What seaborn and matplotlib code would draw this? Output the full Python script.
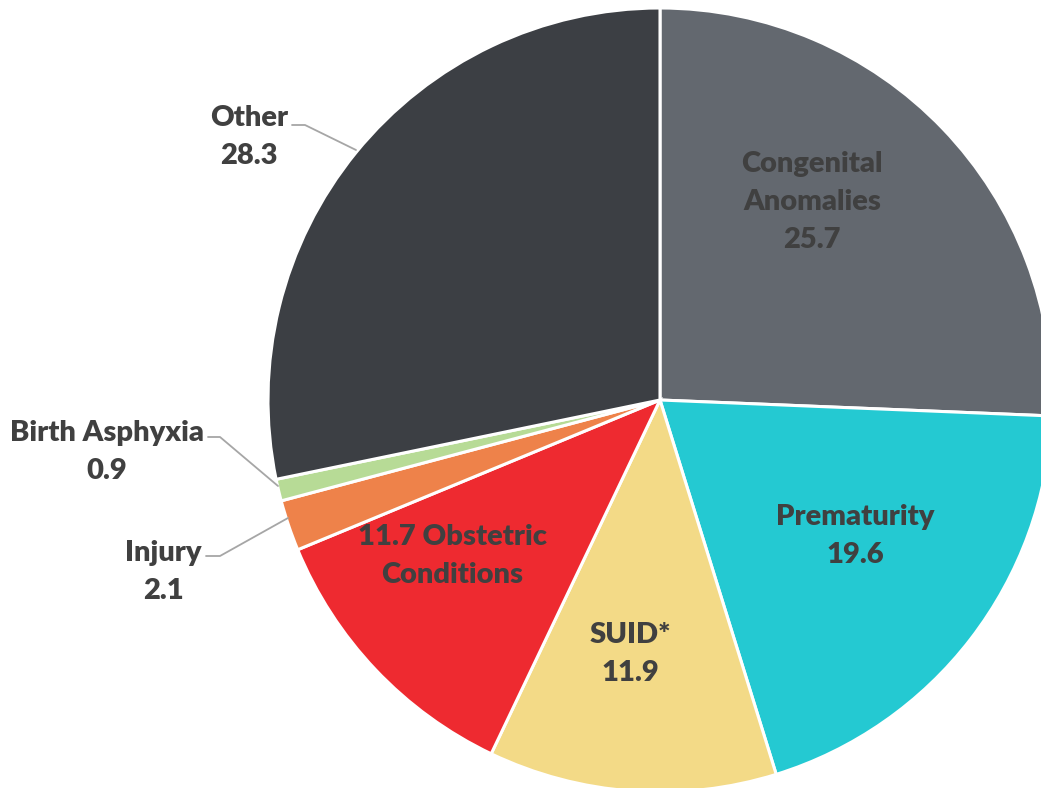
import matplotlib.pyplot as plt
import seaborn as sns

# causes of infant death, percent
causes = ["Congenital\nAnomalies", "Prematurity", "SUID*", "Obstetric\nConditions",
          "Injury", "Birth Asphyxia", "Other"]
values = [25.7, 19.6, 11.9, 11.7, 2.1, 0.9, 28.3]
colors = ["#63686f", "#24c9d2", "#f3da87", "#ee2a30", "#ee824a", "#b7db96", "#3c3f44"]

TXT = "#404040"

sns.set_style("white")
plt.rcParams['font.family'] = ['Lato', 'DejaVu Sans']

fig = plt.figure(figsize=(10.41, 7.88), dpi=100)
ax = fig.add_axes([0, 0, 1, 1])

cx, cy, R = 660, 388, 392
wedges, _ = ax.pie(values, colors=colors, startangle=90, counterclock=False,
                   center=(cx, cy), radius=R, frame=True,
                   wedgeprops=dict(edgecolor="white", linewidth=2.2))
ax.set_xlim(0, 1041)
ax.set_ylim(0, 788)
ax.set_aspect("equal")
ax.axis("off")

kw = dict(fontsize=21, fontweight="heavy", color=TXT, ha="center", va="center",
          linespacing=1.58)

def label(i, x, y, first=False):
    v = f"{values[i]:.1f}"
    if first:
        name = causes[i].split("\n")
        s = f"{v} {name[0]}\n{name[1]}"
    else:
        s = f"{causes[i]}\n{v}"
    ax.text(x, 788 - y, s, **kw)

label(0, 812, 202)
label(1, 855, 536)
label(2, 630, 654)
label(3, 452, 556, first=True)
label(4, 163, 572)
label(5, 107, 452)
label(6, 249, 137)

# leader lines for the outside labels
line = dict(color="#a6a6a6", lw=1.3)
for pts in [[(292, 125), (305, 125), (356, 150)],
            [(208, 437), (220, 437), (278, 486)],
            [(206, 556), (220, 556), (288, 518)]]:
    xs = [p[0] for p in pts]
    ys = [788 - p[1] for p in pts]
    ax.plot(xs, ys, **line)

fig.savefig("out.png", dpi=100)
